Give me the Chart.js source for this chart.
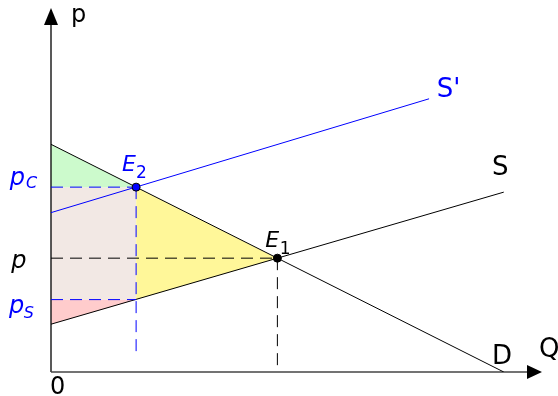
<!DOCTYPE html>
<html>
<head>
<meta charset="utf-8">
<script src="https://cdn.jsdelivr.net/npm/chart.js@4.4.0/dist/chart.umd.min.js"></script>
<style>
  html, body { margin: 0; padding: 0; background: #fff; }
  #wrap { width: 558px; height: 396px; }
</style>
</head>
<body>
<div id="wrap"><canvas id="chart"></canvas></div>
<script>
// supply / demand with a tax wedge
const qMax = 10.8;
const pMax = 15.9;

const demandQ = [0, 10];
const demandP = [10, 0];
const supplyQ = [0, 10];
const supplyP = [2.1, 7.9];
const supplyTaxQ = [0, 8.35];
const supplyTaxP = [7.0, 12.0];

const e1 = [5, 5];          // old equilibrium (Q, p)
const e2 = [1.88, 8.12];    // new equilibrium (Q, pC)
const pSeller = 3.18;       // pS
const e2DropEnd = 0.79;     // where the blue vertical dash stops

const BLUE = "#0000ff";
const FONT = "'DejaVu Sans', sans-serif";

// text labels: text, anchor in data units
const labels = [
  { text: "p", at: [0.44, 15.37], size: 24, color: "#000" },
  { text: "Q", at: [10.78, 0.66], size: 26, color: "#000" },
  { text: "0", at: [-0.02, -0.97], size: 24, color: "#000" },
  { text: "S'", at: [8.52, 12.08], size: 26, color: BLUE },
  { text: "S", at: [9.74, 8.65], size: 26, color: "#000" },
  { text: "D", at: [9.74, 0.35], size: 26, color: "#000" },
  { text: "E", at: [1.57, 8.85], size: 22, color: BLUE, italic: true },
  { text: "2", at: [1.88, 8.52], size: 17, color: BLUE },
  { text: "E", at: [4.73, 5.49], size: 22, color: "#000", italic: true },
  { text: "1", at: [5.05, 5.2], size: 17, color: "#000" },
  { text: "p", at: [-0.88, 4.57], size: 24, color: "#000", italic: true },
  { text: "p", at: [-0.91, 8.21], size: 24, color: BLUE, italic: true },
  { text: "C", at: [-0.55, 8.08], size: 16, color: BLUE, italic: true },
  { text: "p", at: [-0.93, 2.59], size: 24, color: BLUE, italic: true },
  { text: "S", at: [-0.60, 2.37], size: 16, color: BLUE, italic: true }
];

function pts(xs, ys) {
  return xs.map((x, i) => ({ x: x, y: ys[i] }));
}

function seg(color, data, extra) {
  return Object.assign({
    data: data,
    showLine: true,
    borderColor: color,
    borderWidth: 1,
    pointRadius: 0,
    fill: false
  }, extra || {});
}

function area(data, fill, color) {
  return seg("rgba(0,0,0,0)", data, { borderWidth: 0, fill: fill, backgroundColor: color || "rgba(0,0,0,0)" });
}

const dash = [12, 7];

const datasets = [
  // equilibrium points
  seg("#000", [{ x: e1[0], y: e1[1] }], { showLine: false, pointRadius: 4, backgroundColor: "#000", borderWidth: 1 }),
  seg("#000", [{ x: e2[0], y: e2[1] }], { showLine: false, pointRadius: 4, backgroundColor: BLUE, borderWidth: 1 }),
  // guide lines
  seg(BLUE, [{ x: 0, y: pSeller }, { x: e2[0], y: pSeller }], { borderDash: dash }),
  seg(BLUE, [{ x: 0, y: e2[1] }, { x: e2[0], y: e2[1] }], { borderDash: dash }),
  seg(BLUE, [{ x: e2[0], y: e2[1] }, { x: e2[0], y: e2DropEnd }], { borderDash: dash }),
  seg("#000", [{ x: 0, y: e1[1] }, { x: e1[0], y: e1[1] }], { borderDash: dash }),
  seg("#000", [{ x: e1[0], y: e1[1] }, { x: e1[0], y: 0 }], { borderDash: dash }),
  // curves
  seg("#000", pts(demandQ, demandP)),
  seg("#000", pts(supplyQ, supplyP)),
  seg(BLUE, pts(supplyTaxQ, supplyTaxP)),
  // axes
  seg("#444", [{ x: 0, y: 0 }, { x: qMax, y: 0 }], { borderWidth: 1.5, clip: false }),
  seg("#222", [{ x: 0, y: 0 }, { x: 0, y: pMax }], { borderWidth: 1.5, clip: false }),
  // shaded areas
  area([{ x: e2[0], y: pSeller }, { x: e1[0], y: e1[1] }], false),
  area([{ x: e2[0], y: e2[1] }, { x: e1[0], y: e1[1] }], "-1", "#fff799"),
  area([{ x: 0, y: demandP[0] }, { x: e2[0], y: e2[1] }], { value: e2[1] }, "#ccfacc"),
  area([{ x: 0, y: e2[1] }, { x: e2[0], y: e2[1] }], { value: pSeller }, "#f2e8e4"),
  area([{ x: 0, y: supplyP[0] }, { x: e2[0], y: pSeller }], { value: pSeller }, "#ffcccc")
];

// arrow heads and text drawn through the scales
const overlay = {
  id: "overlay",
  afterDatasetsDraw(chart) {
    const ctx = chart.ctx;
    const xs = chart.scales.x, ys = chart.scales.y;
    const ox = xs.getPixelForValue(0), oy = ys.getPixelForValue(0);

    ctx.save();
    ctx.fillStyle = "#000";
    // y arrow
    let ty = ys.getPixelForValue(pMax) - 2;
    ctx.beginPath();
    ctx.moveTo(ox, ty);
    ctx.lineTo(ox - 7, ty + 17);
    ctx.lineTo(ox + 7, ty + 17);
    ctx.closePath();
    ctx.fill();
    // x arrow
    let tx = xs.getPixelForValue(qMax) + 2;
    ctx.beginPath();
    ctx.moveTo(tx, oy);
    ctx.lineTo(tx - 15, oy - 7);
    ctx.lineTo(tx - 15, oy + 7);
    ctx.closePath();
    ctx.fill();

    ctx.textBaseline = "alphabetic";
    ctx.textAlign = "left";
    labels.forEach(l => {
      ctx.font = (l.italic ? "italic " : "") + l.size + "px " + FONT;
      ctx.fillStyle = l.color;
      ctx.fillText(l.text, xs.getPixelForValue(l.at[0]), ys.getPixelForValue(l.at[1]));
    });
    ctx.restore();
  }
};

new Chart(document.getElementById("chart"), {
  type: "scatter",
  data: { datasets: datasets },
  options: {
    responsive: true,
    maintainAspectRatio: false,
    animation: false,
    events: [],
    layout: { padding: { left: 51, right: 18, top: 10, bottom: 24 } },
    plugins: { legend: { display: false }, tooltip: { enabled: false } },
    scales: {
      x: { type: "linear", min: 0, max: qMax, display: false },
      y: { type: "linear", min: 0, max: pMax, display: false }
    }
  },
  plugins: [overlay]
});
</script>
</body>
</html>
